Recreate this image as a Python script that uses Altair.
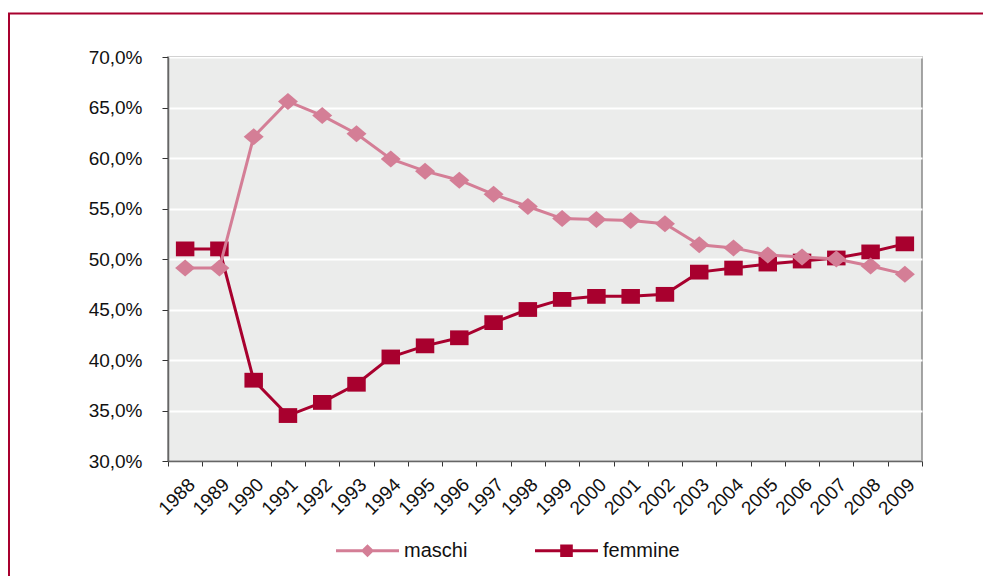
import altair as alt
import pandas as pd

years = [str(y) for y in range(1988, 2010)]
maschi = [49.1, 49.1, 62.1, 65.6, 64.2, 62.4, 59.9, 58.7, 57.8, 56.4, 55.2,
          54.0, 53.9, 53.8, 53.5, 51.4, 51.1, 50.4, 50.2, 50.0, 49.3, 48.5]
femmine = [51.0, 51.0, 38.0, 34.5, 35.8, 37.6, 40.3, 41.4, 42.2, 43.7, 45.0,
           46.0, 46.3, 46.3, 46.5, 48.7, 49.1, 49.5, 49.8, 50.1, 50.7, 51.5]
series_names = ["maschi", "femmine"]
y_ticks = [30, 35, 40, 45, 50, 55, 60, 65, 70]

PINK = "#D47E96"
RED = "#A8002E"
FONT = "Liberation Sans"

rows = []
for name, vals in zip(series_names, [maschi, femmine]):
    for yr, v in zip(years, vals):
        rows.append({"year": yr, "series": name, "value": v})
df = pd.DataFrame(rows)

x_enc = alt.X(
    "year:O",
    sort=years,
    scale=alt.Scale(type="band", paddingInner=0, paddingOuter=0),
    axis=alt.Axis(
        title=None, labelAngle=-45, labelFontSize=19, labelFont=FONT,
        labelColor="#111111", tickBand="extent", tickSize=5, tickColor="#333333",
        domainColor="#666666", domainWidth=1.5, grid=False, labelPadding=9,
    ),
)
y_enc = alt.Y(
    "value:Q",
    scale=alt.Scale(domain=[30, 70], nice=False, zero=False),
    axis=alt.Axis(
        title=None, values=y_ticks, labelFontSize=19, labelFont=FONT,
        labelColor="#111111",
        labelExpr="replace(format(datum.value, '.1f'), '.', ',') + '%'",
        tickSize=6, tickColor="#333333", labelPadding=20,
        domainColor="#666666", domainWidth=1.5,
        grid=True, gridColor="#FFFFFF", gridWidth=2,
    ),
)

base = alt.Chart(df)

DIAMOND = "M-1,0L0,-0.85L1,0L0,0.85Z"
SQUARE = "M-1,-0.8H1V0.8H-1Z"

line_f = base.transform_filter("datum.series == 'femmine'").mark_line(
    color=RED, strokeWidth=3).encode(x=x_enc, y=y_enc)
pts_f = base.transform_filter("datum.series == 'femmine'").mark_point(
    shape=SQUARE, filled=True, color=RED, size=342, opacity=1).encode(x=x_enc, y=y_enc)
line_m = base.transform_filter("datum.series == 'maschi'").mark_line(
    color=PINK, strokeWidth=3).encode(x=x_enc, y=y_enc)
pts_m = base.transform_filter("datum.series == 'maschi'").mark_point(
    shape=DIAMOND, filled=True, color=PINK, size=400, opacity=1).encode(x=x_enc, y=y_enc)

LEG_M = "M-1,-0.048H1V0.048H-1Z M0,-0.21L0.21,0L0,0.21L-0.21,0Z"
LEG_F = "M-1,-0.048H1V0.048H-1Z M-0.2,-0.2H0.2V0.2H-0.2Z"

leg = alt.Legend(
    title=None, orient="none", legendX=168, legendY=462, direction="horizontal",
    symbolSize=3969, labelFontSize=20, labelFont=FONT, labelColor="#111111",
    labelOffset=5, columnPadding=67, symbolStrokeWidth=0, symbolOpacity=1,
)
legend_layer = base.transform_filter("false").mark_point(filled=True, opacity=1).encode(
    x=x_enc, y=y_enc,
    color=alt.Color("series:N", scale=alt.Scale(domain=series_names, range=[PINK, RED]), legend=leg),
    shape=alt.Shape("series:N", scale=alt.Scale(domain=series_names, range=[LEG_M, LEG_F]), legend=leg),
)

frame = alt.Chart(alt.Data(values=[{"k": 1}])).mark_rect(
    filled=False, stroke=RED, strokeWidth=2
).encode(
    x=alt.value(-159), x2=alt.value(754 + 100), y=alt.value(-43.5), y2=alt.value(404 + 150)
)

chart = alt.layer(frame, line_f, pts_f, line_m, pts_m, legend_layer).properties(
    width=754, height=404,
    autosize=alt.AutoSizeParams(type="none"),
    padding={"left": 160, "top": 49, "right": 61, "bottom": 115},
    background="#FFFFFF",
).configure_view(
    fill="#EBECEB", stroke="#888888", strokeWidth=1.5
)

chart.save("out.html", embed_options={"renderer": "svg", "actions": False})
